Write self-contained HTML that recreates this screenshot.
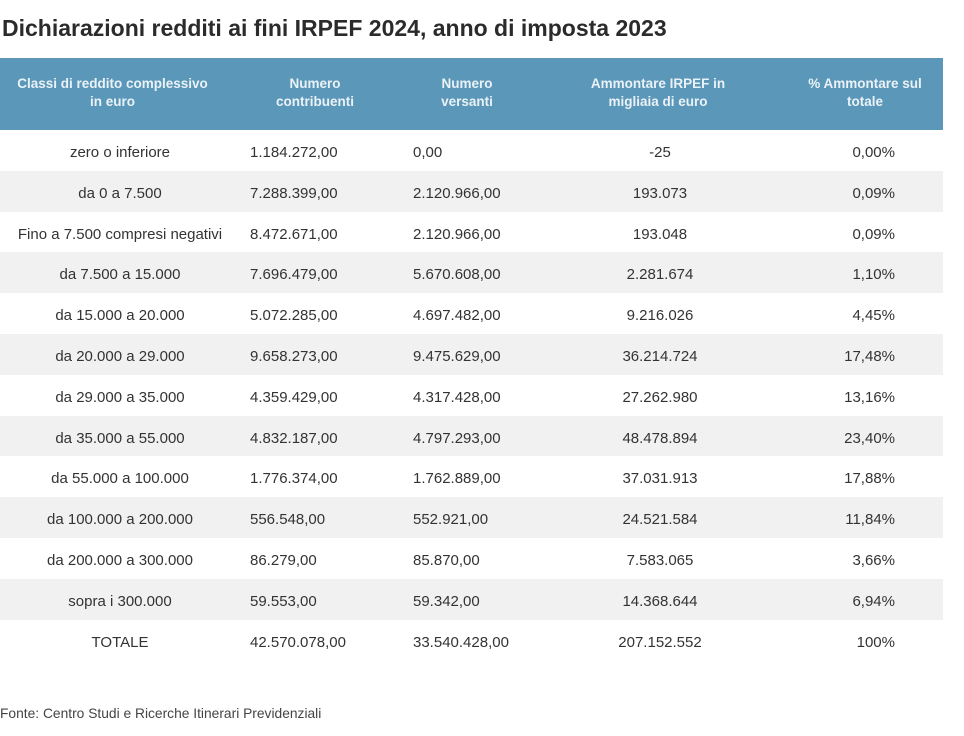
<!DOCTYPE html>
<html><head><meta charset="utf-8"><style>
body{margin:0;width:964px;height:736px;background:#fff;font-family:"Liberation Sans",sans-serif;color:#333;position:relative;overflow:hidden}
.t{position:absolute;left:2px;top:15px;font-size:23px;font-weight:bold;color:#2b2b2b;white-space:nowrap}
.hd{position:absolute;left:0;top:58px;width:943px;height:72px;background:#5b97b8;color:#eaf2f7;font-weight:bold;font-size:13.5px}
.hd div{position:absolute;text-align:center;line-height:18px;top:17px}
.row{position:absolute;left:0;width:943px;height:40.8px;font-size:15px;line-height:46px}
.g{background:#f1f1f1}
.row span{position:absolute;white-space:nowrap}
.c1{left:0;width:240px;text-align:center}
.c2{left:250px}
.c3{left:413px}
.c4{left:560px;width:200px;text-align:center}
.c5{right:48px;text-align:right}
.f{position:absolute;left:0;top:706px;font-size:13.8px;color:#444;white-space:nowrap}
</style></head><body>
<div class="t">Dichiarazioni redditi ai fini IRPEF 2024, anno di imposta 2023</div>
<div class="hd">
<div style="left:0;width:225px">Classi di reddito complessivo<br>in euro</div>
<div style="left:255px;width:120px">Numero<br>contribuenti</div>
<div style="left:407px;width:120px">Numero<br>versanti</div>
<div style="left:568px;width:180px">Ammontare IRPEF in<br>migliaia di euro</div>
<div style="left:790px;width:150px">% Ammontare sul<br>totale</div>
</div>
<div class="row" style="top:130px"><span class="c1">zero o inferiore</span><span class="c2">1.184.272,00</span><span class="c3">0,00</span><span class="c4">-25</span><span class="c5">0,00%</span></div>
<div class="row g" style="top:170.8px"><span class="c1">da 0 a 7.500</span><span class="c2">7.288.399,00</span><span class="c3">2.120.966,00</span><span class="c4">193.073</span><span class="c5">0,09%</span></div>
<div class="row" style="top:211.6px"><span class="c1">Fino a 7.500 compresi negativi</span><span class="c2">8.472.671,00</span><span class="c3">2.120.966,00</span><span class="c4">193.048</span><span class="c5">0,09%</span></div>
<div class="row g" style="top:252.4px"><span class="c1">da 7.500 a 15.000</span><span class="c2">7.696.479,00</span><span class="c3">5.670.608,00</span><span class="c4">2.281.674</span><span class="c5">1,10%</span></div>
<div class="row" style="top:293.2px"><span class="c1">da 15.000 a 20.000</span><span class="c2">5.072.285,00</span><span class="c3">4.697.482,00</span><span class="c4">9.216.026</span><span class="c5">4,45%</span></div>
<div class="row g" style="top:334px"><span class="c1">da 20.000 a 29.000</span><span class="c2">9.658.273,00</span><span class="c3">9.475.629,00</span><span class="c4">36.214.724</span><span class="c5">17,48%</span></div>
<div class="row" style="top:374.8px"><span class="c1">da 29.000 a 35.000</span><span class="c2">4.359.429,00</span><span class="c3">4.317.428,00</span><span class="c4">27.262.980</span><span class="c5">13,16%</span></div>
<div class="row g" style="top:415.6px"><span class="c1">da 35.000 a 55.000</span><span class="c2">4.832.187,00</span><span class="c3">4.797.293,00</span><span class="c4">48.478.894</span><span class="c5">23,40%</span></div>
<div class="row" style="top:456.4px"><span class="c1">da 55.000 a 100.000</span><span class="c2">1.776.374,00</span><span class="c3">1.762.889,00</span><span class="c4">37.031.913</span><span class="c5">17,88%</span></div>
<div class="row g" style="top:497.2px"><span class="c1">da 100.000 a 200.000</span><span class="c2">556.548,00</span><span class="c3">552.921,00</span><span class="c4">24.521.584</span><span class="c5">11,84%</span></div>
<div class="row" style="top:538px"><span class="c1">da 200.000 a 300.000</span><span class="c2">86.279,00</span><span class="c3">85.870,00</span><span class="c4">7.583.065</span><span class="c5">3,66%</span></div>
<div class="row g" style="top:578.8px"><span class="c1">sopra i 300.000</span><span class="c2">59.553,00</span><span class="c3">59.342,00</span><span class="c4">14.368.644</span><span class="c5">6,94%</span></div>
<div class="row" style="top:619.6px"><span class="c1">TOTALE</span><span class="c2">42.570.078,00</span><span class="c3">33.540.428,00</span><span class="c4">207.152.552</span><span class="c5">100%</span></div>
<div class="f">Fonte: Centro Studi e Ricerche Itinerari Previdenziali</div>
</body></html>
